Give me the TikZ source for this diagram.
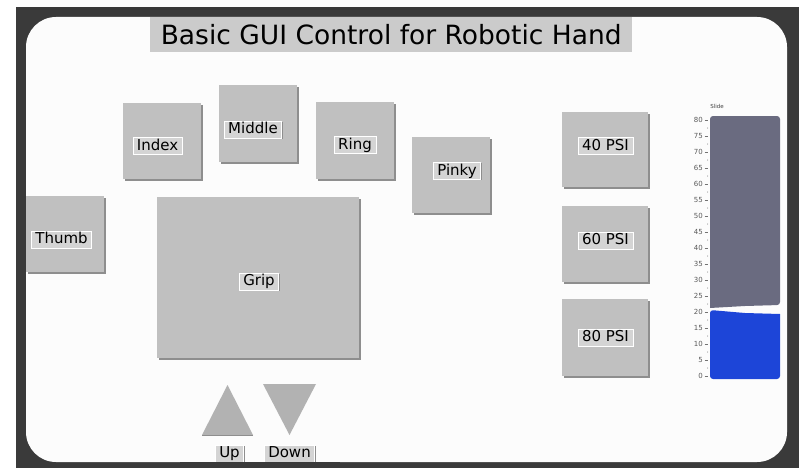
\documentclass[tikz,border=0pt]{standalone}
\usepackage{fontspec}
\setmainfont{DejaVu Sans}
\usetikzlibrary{shadows}
\definecolor{framegray}{HTML}{3A3A3A}
\definecolor{titlegray}{HTML}{CBCBCB}
\definecolor{padgray}{HTML}{C0C0C0}
\definecolor{edgegray}{HTML}{8E8E8E}
\definecolor{taggray}{HTML}{D4D4D4}
\definecolor{arrowgray}{HTML}{B2B2B2}
\definecolor{slidegray}{HTML}{6A6B80}
\definecolor{slideblue}{HTML}{1D45D8}
\tikzset{
    pad/.style={fill=padgray, inner sep=0pt, anchor=north west,
        drop shadow={shadow xshift=1.5pt, shadow yshift=-1.8pt, fill=edgegray, opacity=1}},
    tag/.style={fill=taggray, draw=white, line width=0.6pt, inner xsep=4pt, inner ysep=1.5pt,
        text height=11pt, text depth=3pt, font=\fontsize{15}{15}\selectfont,
        drop shadow={shadow xshift=0.8pt, shadow yshift=-0.8pt, fill=edgegray, opacity=1}},
    scalelbl/.style={anchor=east, inner sep=0pt, text=black!65, font=\fontsize{7}{7}\selectfont}
}
\begin{document}
\begin{tikzpicture}[x=1pt, y=-1pt]
        \useasboundingbox (0,0) rectangle (799,468);
        \fill [white] (0,0) rectangle (799,468);
        \fill [framegray] (16,7) rectangle (799,468);
        \fill [white!99!black, rounded corners=30pt] (26,17) rectangle (787,462);
        \node (title) [fill=titlegray, anchor=north west, inner sep=0pt, minimum width=482pt, minimum height=35pt,
            font=\fontsize{26.5}{30}\selectfont] at (150,17) {Basic GUI Control for Robotic Hand};
        \node (index) [pad, minimum width=78pt, minimum height=76pt] at (123,103) {};
        \node (middle) [pad, minimum width=78pt, minimum height=77pt] at (219,85) {};
        \node (ring) [pad, minimum width=78pt, minimum height=77pt] at (316,102) {};
        \node (pinky) [pad, minimum width=78pt, minimum height=76pt] at (412,137) {};
        \node (thumb) [pad, minimum width=78pt, minimum height=76pt] at (26,196) {};
        \node (grip) [pad, minimum width=202pt, minimum height=161pt] at (157,197) {};
        \node (psi40) [pad, minimum width=86pt, minimum height=75pt] at (562,112) {};
        \node (psi60) [pad, minimum width=86pt, minimum height=76pt] at (562,206) {};
        \node (psi80) [pad, minimum width=86pt, minimum height=77pt] at (562,299) {};
        \node (indextag) [tag] at (157.5,146) {Index};
        \node (middletag) [tag] at (253,129.5) {Middle};
        \node (ringtag) [tag] at (355,145) {Ring};
        \node (pinkytag) [tag] at (457,171) {Pinky};
        \node (thumbtag) [tag] at (61.5,239.5) {Thumb};
        \node (griptag) [tag] at (259,281.5) {Grip};
        \node (psi40tag) [tag] at (605.5,146) {40 PSI};
        \node (psi60tag) [tag] at (605.5,240.5) {60 PSI};
        \node (psi80tag) [tag] at (605.5,337.5) {80 PSI};
        \fill [arrowgray] (202,435) -- (227.5,385) -- (253,435) -- cycle;
        \draw [edgegray, thick] (202,435) -- (253,435);
        \fill [arrowgray] (263,384) -- (316,384) -- (289.5,435) -- cycle;
        \node (uptag) [tag] at (229.5,453.5) {Up};
        \node (downtag) [tag] at (289.5,453.5) {Down};
        \fill [framegray] (180,462) rectangle (340,468);
        \node (slide) [inner sep=0pt, text=black!75, font=\fontsize{5.5}{6}\selectfont] at (717,106) {Slide};
        \fill [slidegray, rounded corners=3pt] (710,308) -- (710,116) -- (780,116) -- (780,305) [sharp corners] -- (745,306) -- cycle;
        \fill [slideblue, rounded corners=3pt] (780,314) -- (780,379) -- (710,379) -- (710,310) [sharp corners] -- (745,313) -- cycle;
        \foreach \v in {0,5,...,80} {
            \node [scalelbl] at (703,{376-3.2*\v}) {\v};
            \draw [black!55, line width=0.5pt] (704.5,{376-3.2*\v}) -- (707.5,{376-3.2*\v});
        }
        \foreach \v in {2.5,7.5,...,77.5}
            \fill [black!55] (707.5,{376-3.2*\v}) circle [radius=0.5];
\end{tikzpicture}
\end{document}
